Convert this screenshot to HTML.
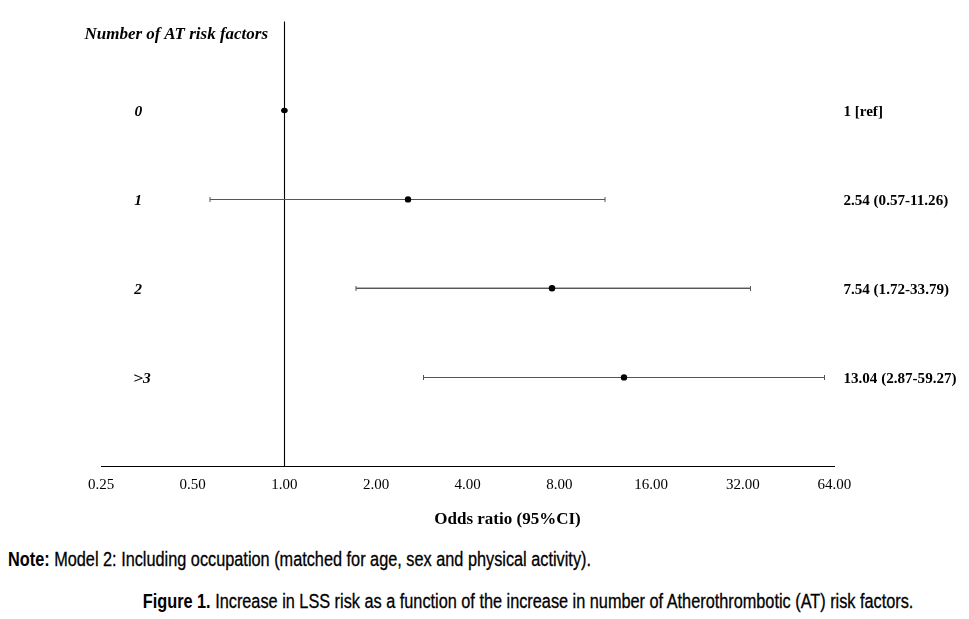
<!DOCTYPE html>
<html>
<head>
<meta charset="utf-8">
<style>
html,body{margin:0;padding:0;background:#fff;}
body{width:969px;height:619px;overflow:hidden;position:relative;}
svg{position:absolute;left:0;top:0;display:block;}
.gray{filter:grayscale(1);}
.serif{font-family:"Liberation Serif","Times New Roman",serif;fill:#000;}
.sans{font-family:"Liberation Sans",Arial,sans-serif;fill:#000;stroke:#000;stroke-width:0.3px;}
.sans tspan.b{stroke-width:0;}
</style>
</head>
<body>
<svg width="969" height="619" viewBox="0 0 969 619">
  <!-- axes -->
  <line x1="284.5" y1="21.4" x2="284.5" y2="466.5" stroke="#000" stroke-width="1.1"/>
  <line x1="101" y1="466.5" x2="835" y2="466.5" stroke="#000" stroke-width="1.1"/>

  <!-- row 1: 2.54 (0.57-11.26) -->
  <g stroke="#555" stroke-width="1">
    <line x1="210" y1="199.5" x2="605" y2="199.5"/>
    <line x1="210" y1="197" x2="210" y2="202"/>
    <line x1="605" y1="197" x2="605" y2="202"/>
    <!-- row 2: 7.54 (1.72-33.79) -->
    <line x1="356" y1="288.5" x2="750.5" y2="288.5"/>
    <line x1="356" y1="287.5" x2="750.5" y2="287.5" stroke="#b4b4b4"/>
    <line x1="356" y1="286" x2="356" y2="291"/>
    <line x1="750.5" y1="286" x2="750.5" y2="291"/>
    <!-- row 3: 13.04 (2.87-59.27) -->
    <line x1="423.5" y1="377.5" x2="824.5" y2="377.5"/>
    <line x1="423.5" y1="375" x2="423.5" y2="380"/>
    <line x1="824.5" y1="375" x2="824.5" y2="380"/>
  </g>
  <g fill="#000">
    <ellipse cx="284.4" cy="110.4" rx="3.3" ry="2.75"/>
    <circle cx="408" cy="199.4" r="3.2"/>
    <circle cx="552" cy="288.3" r="3.25"/>
    <circle cx="624" cy="377.4" r="3.2"/>
  </g>

  <!-- labels -->
  <g class="gray">
  <text class="serif" x="84.5" y="39" font-size="17" font-weight="bold" font-style="italic">Number of AT risk factors</text>
  <g class="serif" font-size="15.5" font-weight="bold" font-style="italic">
    <text x="134.6" y="116">0</text>
    <text x="134.3" y="205">1</text>
    <text x="134.2" y="294">2</text>
    <text transform="translate(133.1 383) scale(1.15 1)">&gt;</text>
    <text x="142.9" y="383">3</text>
  </g>
  <g class="serif" font-size="15.1" font-weight="bold">
    <text x="843.4" y="116">1 [ref]</text>
    <text x="843.4" y="205">2.54 (0.57-11.26)</text>
    <text x="843.4" y="294">7.54 (1.72-33.79)</text>
    <text x="843.4" y="383">13.04 (2.87-59.27)</text>
  </g>
  <g class="serif" font-size="15" text-anchor="middle">
    <text x="101.06" y="489">0.25</text>
    <text x="192.73" y="489">0.50</text>
    <text x="284.4" y="489">1.00</text>
    <text x="376.07" y="489">2.00</text>
    <text x="467.74" y="489">4.00</text>
    <text x="559.4" y="489">8.00</text>
    <text x="651.08" y="489">16.00</text>
    <text x="742.75" y="489">32.00</text>
    <text x="834.42" y="489">64.00</text>
  </g>
  <text class="serif" x="507.5" y="523.5" font-size="17" font-weight="bold" text-anchor="middle">Odds ratio (95%CI)</text>

  </g>
  <!-- note + caption -->
  <text class="sans" x="8" y="565.5" font-size="20" textLength="583" lengthAdjust="spacingAndGlyphs"><tspan class="b" font-weight="bold">Note:</tspan> Model 2: Including occupation (matched for age, sex and physical activity).</text>
  <text class="sans" x="142.8" y="607.5" font-size="20" textLength="770.6" lengthAdjust="spacingAndGlyphs"><tspan class="b" font-weight="bold">Figure 1.</tspan> Increase in LSS risk as a function of the increase in number of Atherothrombotic (AT) risk factors.</text>
</svg>
</body>
</html>
